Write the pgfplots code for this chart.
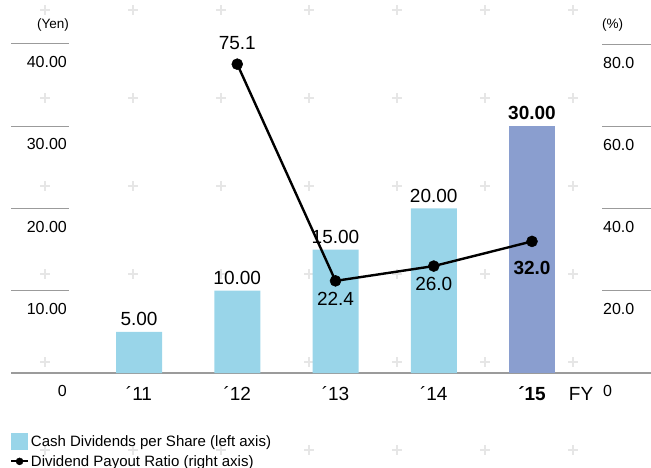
\documentclass[border=0pt]{standalone}
\usepackage{pgfplots}
\usepackage{pgfplotstable}
\pgfplotsset{compat=1.18}
\usepackage{fontspec}
\setmainfont{Liberation Sans}
\definecolor{barblue}{HTML}{99D5E9}
\definecolor{barpurple}{HTML}{8A9ECF}
\definecolor{gridgray}{HTML}{9B9B9B}
\definecolor{crossgray}{HTML}{E6E6E6}
\pgfplotsset{/pgf/number format/assume math mode=true}

% decorative background crosses (positions in left-axis units)
\pgfplotstableread{
x y
-0.9567 44.134
-0.9567 33.435
-0.9567 22.736
-0.9567 12.036
-0.9567 1.337
-0.9567 -9.362
-0.0611 44.134
-0.0611 33.435
-0.0611 22.736
-0.0611 12.036
-0.0611 1.337
-0.0611 -9.362
0.8346 44.134
0.8346 33.435
0.8346 22.736
0.8346 12.036
0.8346 1.337
0.8346 -9.362
1.7303 44.134
1.7303 33.435
1.7303 22.736
1.7303 12.036
1.7303 1.337
1.7303 -9.362
2.6260 44.134
2.6260 33.435
2.6260 22.736
2.6260 12.036
2.6260 1.337
2.6260 -9.362
3.5216 44.134
3.5216 33.435
3.5216 22.736
3.5216 12.036
3.5216 1.337
3.5216 -9.362
4.4173 44.134
4.4173 33.435
4.4173 22.736
4.4173 12.036
4.4173 1.337
4.4173 -9.362
}\crosses

\newcommand{\tickfont}{\fontsize{16bp}{18bp}\selectfont}
\newcommand{\datafont}{\fontsize{19bp}{21bp}\selectfont}

\begin{document}
\begin{tikzpicture}
% background crosses
\begin{axis}[
  at={(11bp,95bp)}, anchor=south west,
  scale only axis, width=640bp, height=329bp,
  xmin=-1.3028, xmax=5.2112, ymin=0, ymax=40,
  clip=false, hide axis,
]
\addplot[only marks, mark=+, mark size=5bp, color=crossgray, mark options={line width=1.1bp}] table {\crosses};
\end{axis}

\begin{axis}[
  at={(11bp,95bp)}, anchor=south west,
  scale only axis, width=640bp, height=329bp,
  xmin=-1.3028, xmax=5.2112, ymin=0, ymax=40,
  clip=false,
  axis x line*=bottom, axis y line*=left,
  x axis line style={draw=gridgray, line width=1.2bp, -},
  y axis line style={draw=none},
  xtick={0,1,2,3,4},
  xticklabels={´11,´12,´13,´14,\textbf{´15}},
  extra x ticks={4.5}, extra x tick labels={FY},
  extra x tick style={xtick style={draw=none}},
  xtick style={draw=none},
  xticklabel style={font=\datafont, anchor=base, inner sep=0pt, yshift=-27bp},
  ytick={0,10,20,30,40},
  yticklabels={0,10.00,20.00,30.00,40.00},
  ytick style={draw=gridgray, line width=1bp},
  tick align=inside, major tick length=58bp,
  yticklabel style={font=\tickfont, anchor=base east, inner sep=0pt, xshift=56bp, yshift=-23.5bp},
  legend style={at={(rel axis cs:-0.0016,-0.1824)}, anchor=north west,
    draw=none, fill=none, inner sep=0pt, font=\fontsize{15bp}{17bp}\selectfont,
    row sep=3bp},
  legend cell align=left,
]
\addplot[ybar, bar width=46bp, bar shift=0pt, fill=barblue, draw=none,
  point meta=explicit symbolic, nodes near coords,
  every node near coord/.append style={font=\datafont, anchor=south, inner sep=0pt, yshift=6bp, text=black},
  legend image code/.code={\fill[barblue] (0bp,-8.5bp) rectangle (17bp,8.5bp);}]
  coordinates {(0,5) [5.00] (1,10) [10.00] (2,15) [15.00] (3,20) [20.00]};
\addlegendentry{Cash Dividends per Share (left axis)}

\addplot[forget plot, ybar, bar width=46bp, bar shift=0pt, fill=barpurple, draw=none,
  point meta=explicit symbolic, nodes near coords,
  every node near coord/.append style={font=\datafont, anchor=south, inner sep=0pt, yshift=6bp, text=black}]
  coordinates {(4,30) [\textbf{30.00}]};

\addlegendimage{legend image code/.code={\draw[black, line width=1.8bp] (0bp,0bp) -- (17bp,0bp); \fill[black] (8.5bp,0bp) circle (3.5bp);}}
\addlegendentry{Dividend Payout Ratio (right axis)}

\node[anchor=base east, inner sep=0pt, font=\fontsize{13.5bp}{15bp}\selectfont] at (rel axis cs:0.0906,1.0486) {(Yen)};
\end{axis}

\begin{axis}[
  at={(11bp,95bp)}, anchor=south west,
  scale only axis, width=640bp, height=329bp,
  xmin=-1.3028, xmax=5.2112, ymin=0, ymax=80,
  clip=false,
  axis x line=none, axis y line*=right,
  y axis line style={draw=none},
  ytick={0,20,40,60,80},
  yticklabels={0,20.0,40.0,60.0,80.0},
  ytick style={draw=gridgray, line width=1bp},
  tick align=inside, major tick length=49bp,
  yticklabel style={font=\tickfont, anchor=base west, inner sep=0pt, xshift=-48bp, yshift=-24bp},
]
\addplot[black, line width=2.4bp, mark=*, mark size=5.5bp, mark options={fill=black, line width=0.5bp}]
  coordinates {(1,75.1) (2,22.4) (3,26.0) (4,32.0)};
\addplot[draw=none, mark=none, point meta=explicit symbolic, nodes near coords,
  every node near coord/.append style={font=\datafont, anchor=south, inner sep=0pt, yshift=14bp, text=black}]
  coordinates {(1,75.1) [75.1]};
\addplot[draw=none, mark=none, point meta=explicit symbolic, nodes near coords,
  every node near coord/.append style={font=\datafont, anchor=north, inner sep=0pt, yshift=-11bp, text=black}]
  coordinates {(2,22.4) [22.4] (3,26.0) [26.0]};
\addplot[draw=none, mark=none, point meta=explicit symbolic, nodes near coords,
  every node near coord/.append style={font=\datafont, anchor=north, inner sep=0pt, yshift=-20bp, text=black}]
  coordinates {(4,32.0) [\textbf{32.0}]};
\node[anchor=base west, inner sep=0pt, font=\fontsize{13.5bp}{15bp}\selectfont] at (rel axis cs:0.9234,1.0486) {(\%)};
\end{axis}
\pgfresetboundingbox
\useasboundingbox (0,0) rectangle (651bp,468bp);
\end{tikzpicture}
\end{document}
